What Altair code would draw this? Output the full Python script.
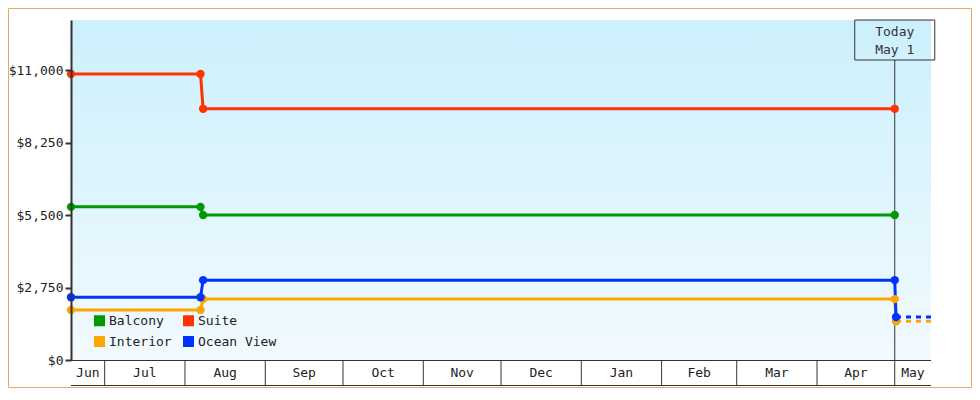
import altair as alt
import pandas as pd

# ---------------- data ----------------
series = ["Balcony", "Interior", "Suite", "Ocean View"]
colors = ["#009900", "#ffa500", "#ff3300", "#0033ff"]

price_dates = ["2023-06-18", "2023-08-07", "2023-08-08", "2024-05-01"]
balcony = [5810, 5810, 5500, 5500]
suite = [10850, 10850, 9530, 9530]
interior = [1900, 1900, 2310, 2310]
ocean_view = [2380, 2380, 3030, 3030]

drop_date = "2024-05-01T12:00:00Z"
interior_drop = 1470
ocean_view_drop = 1630

forecast_dates = ["2024-05-01T12:00:00Z", "2024-05-15"]
interior_forecast = [1470, 1470]
ocean_view_forecast = [1630, 1630]

start_date = (2023, 6, 18)
end_date = (2024, 5, 15)
today = "2024-05-01"
today_text = ["Today", "May 1"]

month_starts = ["2023-07-01", "2023-08-01", "2023-09-01", "2023-10-01", "2023-11-01",
                "2023-12-01", "2024-01-01", "2024-02-01", "2024-03-01", "2024-04-01",
                "2024-05-01"]
month_labels = ["Jun", "Jul", "Aug", "Sep", "Oct", "Nov", "Dec", "Jan", "Feb", "Mar",
                "Apr", "May"]

y_ticks = [0, 2750, 5500, 8250, 11000]
y_max = 12900

FONT = "DejaVu Sans Mono"
W, H = 860, 340

# ---------------- tables ----------------
rows = []
for name, vals in [("Interior", interior), ("Balcony", balcony),
                   ("Suite", suite), ("Ocean View", ocean_view)]:
    for d, v in zip(price_dates, vals):
        rows.append({"date": d, "price": v, "cabin": name})
rows.append({"date": drop_date, "price": interior_drop, "cabin": "Interior"})
rows.append({"date": drop_date, "price": ocean_view_drop, "cabin": "Ocean View"})
prices = pd.DataFrame(rows)

frows = []
for name, vals in [("Interior", interior_forecast), ("Ocean View", ocean_view_forecast)]:
    for d, v in zip(forecast_dates, vals):
        frows.append({"date": d, "price": v, "cabin": name})
forecast = pd.DataFrame(frows)

start_str = "%04d-%02d-%02d" % start_date
end_str = "%04d-%02d-%02d" % end_date
bounds = pd.to_datetime([start_str] + month_starts + [end_str], utc=True)
mids = bounds[:-1] + (bounds[1:] - bounds[:-1]) / 2
month_df = pd.DataFrame({"date": [m.strftime("%Y-%m-%dT%H:%M:%SZ") for m in mids],
                         "label": month_labels})
sep_df = pd.DataFrame({"date": month_starts})
today_df = pd.DataFrame({"date": [today]})
today_t1 = pd.DataFrame({"date": [today], "text": [today_text[0]]})
today_t2 = pd.DataFrame({"date": [today], "text": [today_text[1]]})

# ---------------- scales ----------------
x_scale = alt.Scale(type="utc", nice=False,
                    domain=[alt.DateTime(year=start_date[0], month=start_date[1], date=start_date[2], utc=True),
                            alt.DateTime(year=end_date[0], month=end_date[1], date=end_date[2], utc=True)])
y_scale = alt.Scale(domain=[0, y_max], nice=False, zero=True)
# legend (fill colour) scale, in legend order (column-wise)
color_scale = alt.Scale(domain=series, range=colors)
# line stroke scale: same mapping, listed in another order so that its
# (hidden) legend is kept apart from the colour legend
stroke_order = [3, 2, 1, 0]
stroke_scale = alt.Scale(domain=[series[i] for i in stroke_order],
                         range=[colors[i] for i in stroke_order])

X = alt.X("date:T", scale=x_scale, axis=None)
Y = alt.Y("price:Q", scale=y_scale, title=None,
          axis=alt.Axis(values=y_ticks, format="$,.0f", grid=False, labelFont=FONT,
                        labelFontSize=13, labelColor="#222", domainColor="#333",
                        domainWidth=2, tickColor="#333", tickWidth=2, tickSize=6,
                        labelPadding=2, minExtent=63, maxExtent=63, zindex=1))

blank = alt.Data(values=[{}])

background = alt.Chart(blank).mark_rect(
    color=alt.Gradient(gradient="linear",
                       stops=[alt.GradientStop(color="#ccf0fc", offset=0),
                              alt.GradientStop(color="#f2faff", offset=1)],
                       x1=0, x2=0, y1=0, y2=1)
).encode(x=alt.value(0), x2=alt.value(W), y=alt.value(0), y2=alt.value(H))

border = alt.Chart(blank).mark_rect(fill="transparent", stroke="#e8a864", strokeWidth=1).encode(
    x=alt.value(-62.5), x2=alt.value(900.5), y=alt.value(-11.5), y2=alt.value(367.5))

today_box = alt.Chart(today_df).mark_rect(fill="transparent", stroke="#333", strokeWidth=1,
                                          xOffset=-40, x2Offset=40).encode(
    x=X, x2=alt.X2("date:T"), y=alt.value(0), y2=alt.value(40))
today_rule = alt.Chart(today_df).mark_rule(color="#333", strokeWidth=1).encode(
    x=X, y=alt.value(40), y2=alt.value(H))
today_label1 = alt.Chart(today_t1).mark_text(font=FONT, fontSize=13, color="#333",
                                             baseline="middle").encode(
    x=X, y=alt.value(12), text="text:N")
today_label2 = alt.Chart(today_t2).mark_text(font=FONT, fontSize=13, color="#333",
                                             baseline="middle").encode(
    x=X, y=alt.value(30), text="text:N")

lines = alt.Chart(prices).mark_line(strokeWidth=3).encode(
    x=X, y=Y, stroke=alt.Stroke("cabin:N", scale=stroke_scale, legend=None),
    detail="cabin:N")
dashed = alt.Chart(forecast).mark_line(strokeWidth=3, strokeDash=[5, 5]).encode(
    x=X, y=Y, stroke=alt.Stroke("cabin:N", scale=stroke_scale, legend=None),
    detail="cabin:N")
points = alt.Chart(prices).mark_point(size=70, filled=True, opacity=1).encode(
    x=X, y=Y,
    color=alt.Color("cabin:N", scale=color_scale,
                    legend=alt.Legend(orient="none", legendX=22, legendY=294, columns=2,
                                      title=None, symbolType="square", symbolSize=121,
                                      symbolStrokeWidth=0, symbolOpacity=1, padding=0,
                                      labelFont=FONT, labelFontSize=13, labelColor="#222",
                                      labelOffset=3, columnPadding=10, rowPadding=7)))

x_line = alt.Chart(blank).mark_rule(color="#333", strokeWidth=1).encode(
    x=alt.value(0), x2=alt.value(W), y=alt.value(H + 0.5))
x_bottom = alt.Chart(blank).mark_rule(color="#333", strokeWidth=1).encode(
    x=alt.value(0), x2=alt.value(W), y=alt.value(H + 25.5))
seps = alt.Chart(sep_df).mark_rule(color="#333", strokeWidth=1).encode(
    x=X, y=alt.value(H), y2=alt.value(H + 25))
month_text = alt.Chart(month_df).mark_text(font=FONT, fontSize=13, color="#222",
                                           baseline="middle").encode(
    x=X, y=alt.value(H + 13), text="label:N")

chart = alt.layer(
    background, border, today_box, today_rule, today_label1, today_label2,
    lines, dashed, points, x_line, x_bottom, seps, month_text
).properties(
    width=W, height=H, padding=0, background="white"
).configure_view(stroke=None)

chart.save("out.html", embed_options={"renderer": "svg", "actions": False})
